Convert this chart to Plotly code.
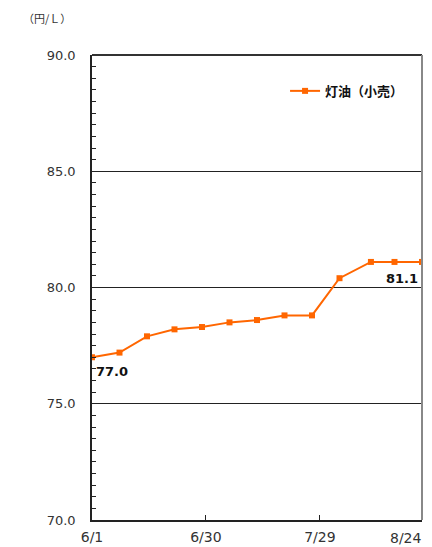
import plotly.graph_objects as go

# Weekly kerosene (retail) price, yen per litre
dates = ["2020-06-01", "2020-06-08", "2020-06-15", "2020-06-22", "2020-06-29",
         "2020-07-06", "2020-07-13", "2020-07-20", "2020-07-27", "2020-08-03",
         "2020-08-11", "2020-08-17", "2020-08-24"]
kerosene = [77.0, 77.2, 77.9, 78.2, 78.3, 78.5, 78.6, 78.8, 78.8, 80.4, 81.1, 81.1, 81.1]

series_name = "灯油（小売）"
unit_label = "（円/Ｌ）"
x_tick_vals = ["2020-06-01", "2020-06-30", "2020-07-29", "2020-08-24"]
x_tick_text = ["6/1", "6/30", "7/29", "8/24"]
y_tick_vals = [70, 75, 80, 85, 90]

ORANGE = "#FF6600"
FONT = "DejaVu Sans"
CJK = "Noto Sans CJK JP"

fig = go.Figure()
fig.add_trace(go.Scatter(
    x=dates, y=kerosene, name=f"<b>{series_name}</b>", mode="lines+markers",
    line=dict(color=ORANGE, width=2),
    marker=dict(symbol="square", size=6, color=ORANGE),
))

# value labels on the first and last points
fig.add_annotation(x=dates[0], y=kerosene[0], text=f"<b>{kerosene[0]:.1f}</b>",
                   showarrow=False, xanchor="left", yanchor="top", xshift=2, yshift=-5,
                   font=dict(family=FONT, size=13, color="#111"))
fig.add_annotation(x=dates[-1], y=kerosene[-1], text=f"<b>{kerosene[-1]:.1f}</b>",
                   showarrow=False, xanchor="right", yanchor="top", xshift=-2, yshift=-7,
                   font=dict(family=FONT, size=13, color="#111"))

# last date label sits flush with the right edge of the plot
fig.add_annotation(x=x_tick_vals[-1], yref="paper", y=0, text=x_tick_text[-1],
                   showarrow=False, xanchor="right", yanchor="top", xshift=2, yshift=-8,
                   font=dict(family=FONT, size=14, color="#333"))

# unit label above the value axis
fig.add_annotation(xref="paper", yref="paper", x=-0.215, y=1.08, text=unit_label,
                   showarrow=False, xanchor="left", yanchor="middle",
                   font=dict(family=CJK, size=11, color="#333"))

# frame: dark top edge, grey right edge
fig.add_shape(type="line", xref="paper", yref="paper", x0=0, x1=1, y0=1, y1=1,
              line=dict(color="#333", width=2))
fig.add_shape(type="line", xref="paper", yref="paper", x0=1, x1=1, y0=0, y1=1,
              line=dict(color="#888", width=2))

fig.update_layout(
    width=432, height=547,
    margin=dict(l=92, r=10, t=55, b=27),
    paper_bgcolor="white", plot_bgcolor="white",
    showlegend=True,
    legend=dict(x=0.585, y=0.955, xanchor="left", yanchor="top",
                bgcolor="rgba(0,0,0,0)", font=dict(family=CJK, size=13, color="#111"),
                itemwidth=30, tracegroupgap=0),
    xaxis=dict(
        type="date", range=["2020-06-01", "2020-08-24"],
        tickmode="array", tickvals=x_tick_vals,
        ticktext=x_tick_text[:-1] + [""],
        ticks="inside", ticklen=5, tickcolor="#222",
        showgrid=False, zeroline=False, automargin=False,
        showline=True, linecolor="#222", linewidth=1.5,
        tickfont=dict(family=FONT, size=14, color="#333"),
        ticklabelstandoff=3,
    ),
    yaxis=dict(
        range=[70, 90], tickmode="array", tickvals=y_tick_vals,
        tickformat=".1f", automargin=False,
        ticks="inside", ticklen=6, tickcolor="#222",
        minor=dict(dtick=0.5, ticks="inside", ticklen=4, tickcolor="#222", showgrid=False),
        showgrid=True, gridcolor="#222", gridwidth=1,
        zeroline=False,
        showline=True, linecolor="#222", linewidth=1.5,
        tickfont=dict(family=FONT, size=13, color="#333"),
        ticklabelstandoff=12,
    ),
)

fig.write_html("out.html")
